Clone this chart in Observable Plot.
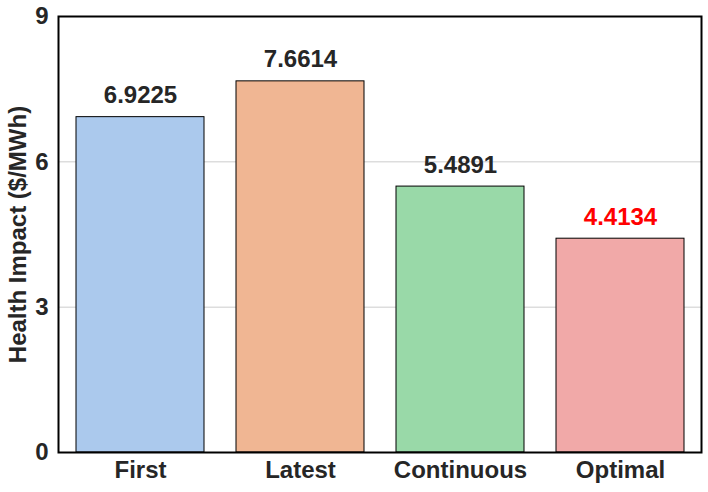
<!DOCTYPE html>
<html>
<head>
<meta charset="utf-8">
<script src="https://cdn.jsdelivr.net/npm/d3@7"></script>
<script src="https://cdn.jsdelivr.net/npm/@observablehq/plot@0.6"></script>
<style>
  html, body { margin: 0; padding: 0; background: #fff; }
  #chart { width: 708px; height: 492px; }
</style>
</head>
<body>
<div id="chart"></div>
<script>
const categories = ["First", "Latest", "Continuous", "Optimal"];
const values = [6.9225, 7.6614, 5.4891, 4.4134];
const barColors = ["#abc9ed", "#f0b693", "#99d9a8", "#f1a9a8"];
const labelColors = ["#262626", "#262626", "#262626", "#ff0000"];
const yTicks = [0, 3, 6, 9];
const yLabel = "Health Impact ($/MWh)";

const data = categories.map((c, i) => ({cat: c, value: values[i], label: values[i].toFixed(4), lc: labelColors[i]}));

const chart = Plot.plot({
  width: 708,
  height: 492,
  marginLeft: 58,
  marginRight: 7,
  marginTop: 16,
  marginBottom: 40,
  style: {fontFamily: "'Liberation Sans', Arial, sans-serif", color: "#262626", background: "#fff"},
  x: {domain: categories, paddingInner: 0.2, paddingOuter: 0.1, label: null},
  y: {domain: [0, 9], label: null},
  color: {type: "ordinal", domain: categories, range: barColors},
  marks: [
    Plot.gridY([3, 6], {stroke: "#cccccc", strokeOpacity: 1, strokeWidth: 1}),
    Plot.barY(data, {x: "cat", y: "value", fill: "cat", stroke: "black", strokeWidth: 1}),
    Plot.text(data, {x: "cat", y: "value", text: "label", fill: "lc", dy: -14, lineAnchor: "bottom", fontSize: 24, fontWeight: "bold"}),
    Plot.axisY(yTicks, {tickSize: 0, tickPadding: 10, fontSize: 24, fontWeight: "bold", label: null}),
    Plot.axisY({tickSize: 0, ticks: [], fontSize: 24, fontWeight: "bold", label: yLabel, labelAnchor: "center", labelArrow: "none", labelOffset: 50}),
    Plot.axisX({tickSize: 0, tickPadding: 8, fontSize: 24, fontWeight: "bold", label: null}),
    Plot.frame({stroke: "black", strokeWidth: 2})
  ]
});
document.getElementById("chart").appendChild(chart);
</script>
</body>
</html>
